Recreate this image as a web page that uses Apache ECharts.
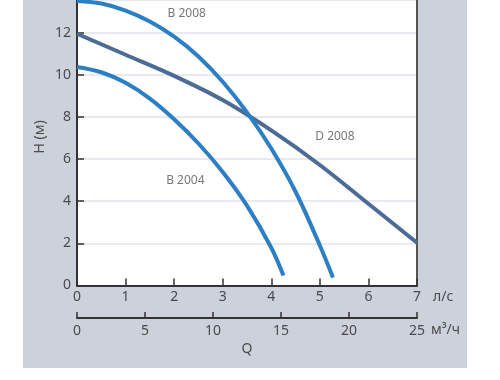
<!DOCTYPE html>
<html>
<head>
<meta charset="utf-8">
<script src="https://cdn.jsdelivr.net/npm/echarts@6/dist/echarts.min.js"></script>
<style>html,body{margin:0;padding:0;background:#fff;}#c{width:500px;height:380px;}</style>
</head>
<body>
<div id="c"></div>
<script>
// Q (l/s), H (m)
var b2004 = [[0,10.37],[0.5,10.12],[1,9.62],[1.5,8.87],[2,7.89],[2.5,6.74],[3,5.39],[3.5,3.79],[4,1.79],[4.25,0.47]];
var b2008 = [[0,13.5],[0.5,13.38],[1,13.05],[1.5,12.53],[2,11.81],[2.5,10.87],[3,9.67],[3.5,8.22],[4,6.5],[4.5,4.45],[5,1.9],[5.27,0.38]];
var d2008 = [[0,11.95],[1,10.95],[2,9.95],[3,8.8],[4,7.36],[5,5.72],[6,3.88],[7,2.03]];
var curveLabels = [[2.26,12.92,'B 2008'],[5.31,7.06,'D 2008'],[2.23,4.96,'B 2004']];
var qTicksLs = [0,7,1];      // min, max, interval (л/с)
var qTicksM3 = [0,25,5];     // min, max, interval (м³/ч)
var hTicks = [0,13.55,2];

var FONT = 'Noto Sans';
var TXT = '#4a4a4a';
var chart = echarts.init(document.getElementById('c'), null, {renderer:'canvas'});
chart.setOption({
  animation:false,
  backgroundColor:'#ffffff',
  textStyle:{fontFamily:FONT},
  graphic:[
    {type:'rect', z:-10, shape:{x:23,y:0,width:444,height:368}, style:{fill:'#ccd1dc'}},
    {type:'text', x:247, y:349, style:{text:'Q', font:'14px "Noto Sans"', fill:TXT, textAlign:'center', textVerticalAlign:'middle'}},
    {type:'text', x:40, y:137, rotation:Math.PI/2, style:{text:'H (м)', font:'14px "Noto Sans"', fill:TXT, textAlign:'center', textVerticalAlign:'middle'}}
  ],
  grid:{left:77, right:83, top:0, bottom:94.5, show:true, backgroundColor:'#ffffff', borderWidth:0},
  xAxis:[
    {type:'value', min:qTicksLs[0], max:qTicksLs[1], interval:qTicksLs[2], position:'bottom',
     name:'л/с', nameLocation:'end', nameGap:16, nameTextStyle:{color:TXT, fontSize:14, fontFamily:FONT, verticalAlign:'top', padding:[5,0,0,0]},
     axisLine:{show:true, onZero:false, lineStyle:{color:'#333', width:2}},
     axisTick:{show:true, inside:true, length:7, lineStyle:{color:'#333', width:1.5}},
     axisLabel:{color:TXT, fontSize:14, margin:5, fontFamily:FONT},
     splitLine:{show:false}},
    {type:'value', min:qTicksM3[0], max:qTicksM3[1], interval:qTicksM3[2], position:'bottom', offset:32.5,
     name:'м³/ч', nameLocation:'end', nameGap:12, nameTextStyle:{color:TXT, fontSize:14, fontFamily:FONT, verticalAlign:'top', padding:[5,0,0,0]},
     axisLine:{show:true, onZero:false, lineStyle:{color:'#333', width:2}},
     axisTick:{show:true, inside:true, length:6, lineStyle:{color:'#333', width:1.5}},
     axisLabel:{color:TXT, fontSize:14, margin:6, fontFamily:FONT},
     splitLine:{show:false}}
  ],
  yAxis:[
    {type:'value', min:hTicks[0], max:hTicks[1], interval:hTicks[2], position:'left',
     axisLine:{show:true, onZero:false, lineStyle:{color:'#333', width:2}},
     axisTick:{show:true, inside:true, length:7, lineStyle:{color:'#333', width:1.5}},
     axisLabel:{color:TXT, fontSize:14, margin:6, showMaxLabel:false, fontFamily:FONT},
     splitLine:{show:true, lineStyle:{color:'#dfe3ea', width:1.5}}},
    {type:'value', min:hTicks[0], max:hTicks[1], position:'right',
     axisLine:{show:true, onZero:false, lineStyle:{color:'#555', width:2}},
     axisTick:{show:false}, axisLabel:{show:false}, splitLine:{show:false}}
  ],
  series:[
    {type:'line', name:'D 2008', data:d2008, smooth:0.35, showSymbol:false, lineStyle:{color:'#4c6c95', width:4}, z:2},
    {type:'line', name:'B 2004', data:b2004, smooth:0.35, showSymbol:false, lineStyle:{color:'#2c7fc3', width:4}, z:3},
    {type:'line', name:'B 2008', data:b2008, smooth:0.35, showSymbol:false, lineStyle:{color:'#2c7fc3', width:4}, z:3},
    {type:'scatter', data:curveLabels, symbolSize:0, silent:true,
     label:{show:true, position:'inside', formatter:function(p){return p.value[2];}, color:'#555', fontSize:12, fontFamily:FONT}}
  ]
});
</script>
</body>
</html>
